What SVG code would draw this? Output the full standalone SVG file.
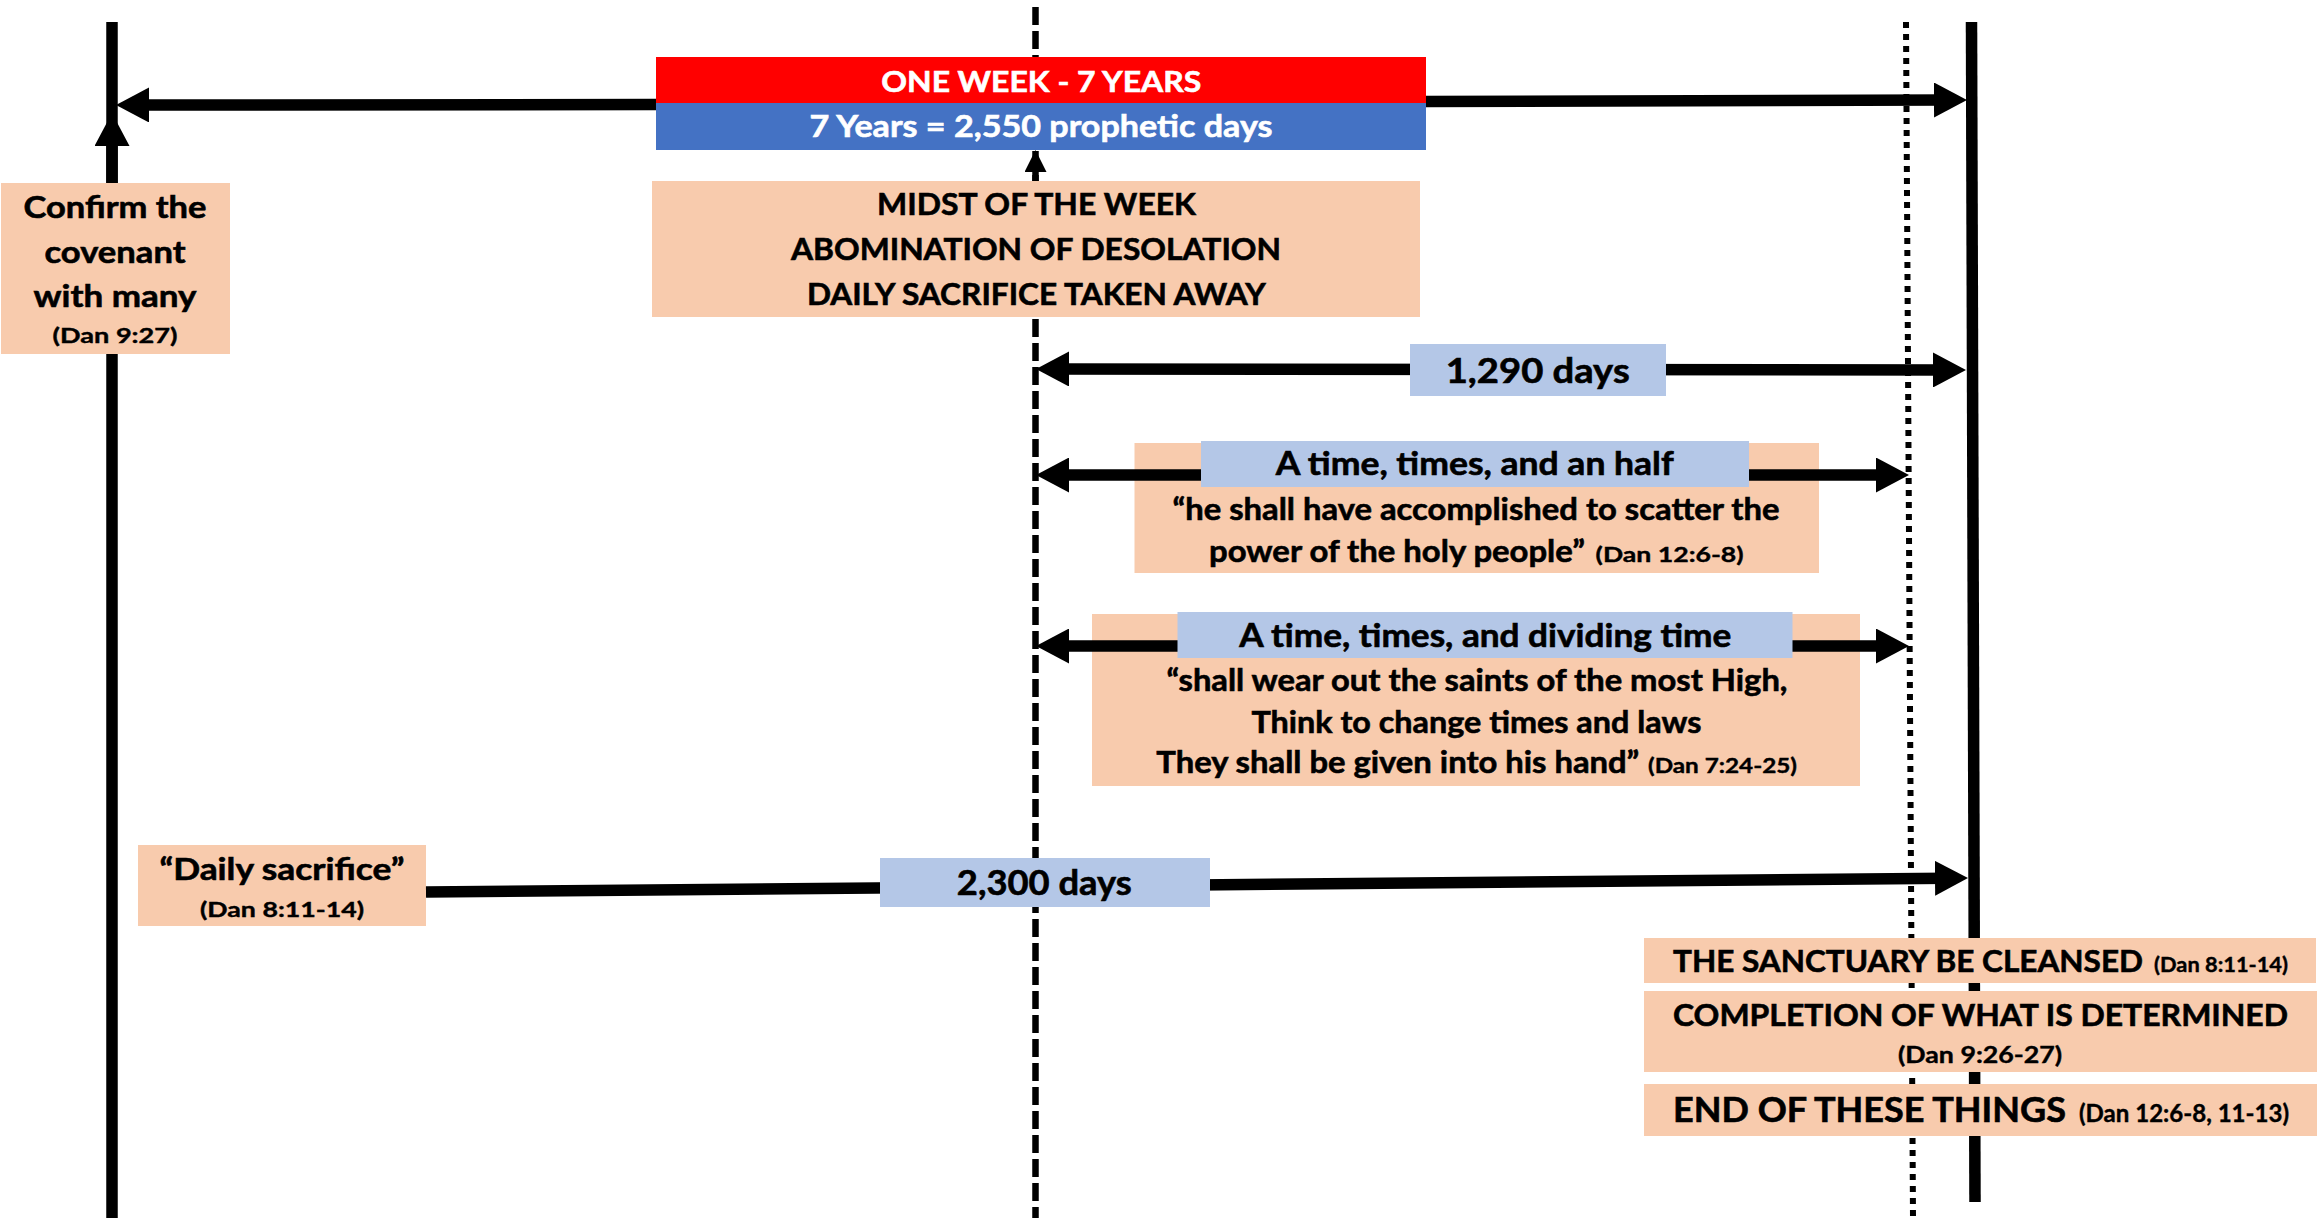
<svg xmlns="http://www.w3.org/2000/svg" width="2317" height="1218" viewBox="0 0 2317 1218">
<style>
text{font-family:Lato,"Open Sans","Liberation Sans",sans-serif;font-weight:700;fill:#000;stroke:#000;stroke-width:0.6}
.peach{fill:#F8CBAD}
.lblue{fill:#B4C7E7}
.t30{font-size:31px}
.t32{font-size:32px}
.t35{font-size:35px}
.s{font-size:21px;stroke-width:0.4}
.c{text-anchor:middle}
.w{fill:#fff;stroke:#fff}
.tl{stroke:#000;fill:none}
.ar{stroke:#000;stroke-width:11.5;fill:none}
</style>
<defs>
<marker id="ah" markerUnits="userSpaceOnUse" markerWidth="33" markerHeight="35" refX="13" refY="17.5" orient="auto-start-reverse" viewBox="0 0 33 35">
<path d="M0,0 L33,17.5 L0,35 Z" fill="#000"/>
</marker>
<marker id="ahs" markerUnits="userSpaceOnUse" markerWidth="22" markerHeight="22" refX="10" refY="11" orient="auto" viewBox="0 0 22 22">
<path d="M0,0 L22,11 L0,22 Z" fill="#000"/>
</marker>
</defs>
<rect width="2317" height="1218" fill="#fff"/>

<g id="timelines">
<line class="tl" x1="112" y1="22" x2="112" y2="1218" stroke-width="11.5"/>
<line class="tl" x1="1035.5" y1="7" x2="1035.5" y2="1218" stroke-width="6.5" stroke-dasharray="18 6"/>
<line class="tl" x1="1906" y1="22" x2="1913" y2="1218" stroke-width="6" stroke-dasharray="6 6"/>
<line class="tl" x1="1971.5" y1="22" x2="1975" y2="1202" stroke-width="11.5"/>
</g>

<g id="confirm">
<rect class="peach" x="1" y="183" width="229" height="171"/>
<text class="t30 c" x="115" y="218" textLength="183" lengthAdjust="spacingAndGlyphs">Confirm the</text>
<text class="t30 c" x="115" y="263" textLength="141" lengthAdjust="spacingAndGlyphs">covenant</text>
<text class="t30 c" x="115" y="307" textLength="163" lengthAdjust="spacingAndGlyphs">with many</text>
<text class="s c" x="115" y="343" textLength="125" lengthAdjust="spacingAndGlyphs">(Dan 9:27)</text>
</g>

<g id="midst">
<rect class="peach" x="652" y="181" width="768" height="136"/>
<text class="t30 c" x="1036.5" y="215" textLength="319" lengthAdjust="spacingAndGlyphs">MIDST OF THE WEEK</text>
<text class="t30 c" x="1036" y="260" textLength="490" lengthAdjust="spacingAndGlyphs">ABOMINATION OF DESOLATION</text>
<text class="t30 c" x="1036.4" y="305" textLength="459" lengthAdjust="spacingAndGlyphs">DAILY SACRIFICE TAKEN AWAY</text>
</g>

<g id="half-box">
<rect class="peach" x="1134.5" y="443" width="684.5" height="130"/>
<text class="t30 c" x="1476" y="520" textLength="607" lengthAdjust="spacingAndGlyphs">“he shall have accomplished to scatter the</text>
<text class="t30" x="1209" y="562" textLength="376" lengthAdjust="spacingAndGlyphs">power of the holy people”</text>
<text class="s" x="1595.6" y="562" textLength="148" lengthAdjust="spacingAndGlyphs">(Dan 12:6-8)</text>
</g>

<g id="dividing-box">
<rect class="peach" x="1092" y="614" width="768" height="172"/>
<text class="t30 c" x="1477" y="691" textLength="621" lengthAdjust="spacingAndGlyphs">“shall wear out the saints of the most High,</text>
<text class="t30 c" x="1476.5" y="733" textLength="450" lengthAdjust="spacingAndGlyphs">Think to change times and laws</text>
<text class="t30" x="1156.3" y="773" textLength="483" lengthAdjust="spacingAndGlyphs">They shall be given into his hand”</text>
<text class="s" x="1648" y="773" textLength="149" lengthAdjust="spacingAndGlyphs">(Dan 7:24-25)</text>
</g>

<g id="daily">
<rect class="peach" x="138" y="845" width="288" height="81"/>
<text class="t30 c" x="282" y="880" textLength="245" lengthAdjust="spacingAndGlyphs">“Daily sacrifice”</text>
<text class="s c" x="282" y="917" textLength="164" lengthAdjust="spacingAndGlyphs">(Dan 8:11-14)</text>
</g>

<g id="sanctuary">
<rect class="peach" x="1644" y="938" width="672" height="45"/>
<text class="t30" x="1673" y="972" textLength="470" lengthAdjust="spacingAndGlyphs">THE SANCTUARY BE CLEANSED</text>
<text class="s" x="2154" y="972" font-size="19" textLength="134" lengthAdjust="spacingAndGlyphs">(Dan 8:11-14)</text>
</g>

<g id="completion">
<rect class="peach" x="1644" y="991" width="673" height="81"/>
<text class="t30 c" x="1980.5" y="1026" textLength="615" lengthAdjust="spacingAndGlyphs">COMPLETION OF WHAT IS DETERMINED</text>
<text class="s c" x="1980" y="1063" style="font-size:22px" textLength="164" lengthAdjust="spacingAndGlyphs">(Dan 9:26-27)</text>
</g>

<g id="end">
<rect class="peach" x="1644" y="1084" width="673" height="52"/>
<text class="t35" x="1673" y="1122" textLength="393" lengthAdjust="spacingAndGlyphs">END OF THESE THINGS</text>
<text class="s" x="2079" y="1122" style="font-size:24px" textLength="210" lengthAdjust="spacingAndGlyphs">(Dan 12:6-8, 11-13)</text>
</g>

<g id="connectors">
<line class="ar" x1="656" y1="104.5" x2="136" y2="105" marker-end="url(#ah)"/>
<line class="ar" x1="1426" y1="101.5" x2="1947" y2="100" marker-end="url(#ah)"/>
<line class="ar" x1="112" y1="183" x2="112" y2="133" marker-end="url(#ah)"/>
<line x1="1035.5" y1="181" x2="1035.5" y2="162" stroke="#000" stroke-width="6.5" marker-end="url(#ahs)"/>
<line class="ar" x1="1056" y1="369" x2="1946" y2="370" marker-start="url(#ah)" marker-end="url(#ah)"/>
<line class="ar" x1="1056" y1="475" x2="1889" y2="475" marker-start="url(#ah)" marker-end="url(#ah)"/>
<line class="ar" x1="1056" y1="646" x2="1889" y2="646" marker-start="url(#ah)" marker-end="url(#ah)"/>
<line class="ar" x1="426" y1="892" x2="1948" y2="878.2" marker-end="url(#ah)"/>
</g>

<g id="week">
<rect x="656" y="57" width="770" height="46" fill="#FF0000"/>
<rect x="656" y="103" width="770" height="47" fill="#4472C4"/>
<text class="w c" x="1041.3" y="92" font-size="29" textLength="320" lengthAdjust="spacingAndGlyphs">ONE WEEK - 7 YEARS</text>
<text class="w c t30" x="1041" y="137" textLength="463" lengthAdjust="spacingAndGlyphs">7 Years = 2,550 prophetic days</text>
</g>

<g id="days-1290">
<rect class="lblue" x="1410" y="344" width="256" height="52"/>
<text class="t35 c" x="1537.7" y="383" textLength="184" lengthAdjust="spacingAndGlyphs">1,290 days</text>
</g>

<g id="half-label">
<rect class="lblue" x="1201" y="441" width="548" height="46"/>
<text class="t32 c" x="1474.7" y="475" textLength="398" lengthAdjust="spacingAndGlyphs">A time, times, and an half</text>
</g>

<g id="dividing-label">
<rect class="lblue" x="1177.5" y="612" width="615" height="46"/>
<text class="t32 c" x="1485.3" y="647" textLength="492" lengthAdjust="spacingAndGlyphs">A time, times, and dividing time</text>
</g>

<g id="days-2300">
<rect class="lblue" x="880" y="858" width="330" height="49"/>
<text class="t35 c" x="1044.3" y="895" textLength="175" lengthAdjust="spacingAndGlyphs">2,300 days</text>
</g>
</svg>
